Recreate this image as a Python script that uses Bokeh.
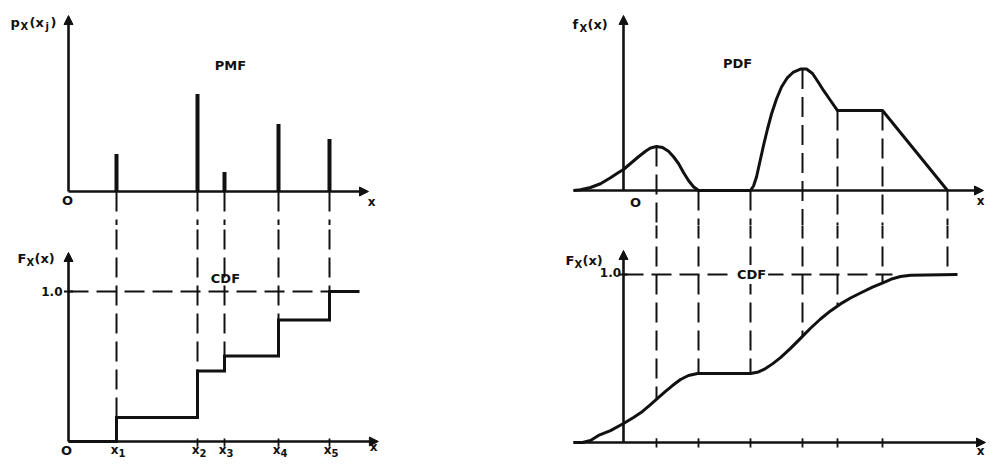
from bokeh.plotting import figure
from bokeh.layouts import gridplot
from bokeh.models import Arrow, NormalHead, Range1d, Label
from bokeh.core.properties import value
from bokeh.embed import file_html
from bokeh.resources import INLINE

# ---------------- data ----------------
# Discrete random variable (left)
x_pts = [1.6, 4.3, 5.2, 7.0, 8.7]          # x1 .. x5
x_subs = ["1", "2", "3", "4", "5"]
pmf = [0.25, 0.65, 0.13, 0.45, 0.35]        # p_X(x_j) stem heights
cdf_steps = [0.16, 0.47, 0.57, 0.81, 1.0]   # F_X(x) after each jump
x_end_left = 9.7

# Continuous random variable (right)
pdf_x = [-1.25, -1.075, -0.825, -0.575, -0.325, -0.125, 0.0, 0.175, 0.375, 0.55, 0.675, 0.825,
         0.975, 1.125, 1.25, 1.375, 1.5, 1.625, 1.75, 1.875,
         3.175, 3.25, 3.325, 3.4, 3.5, 3.6, 3.7, 3.825, 3.95, 4.1, 4.25, 4.425, 4.575, 4.725,
         4.875, 5.0, 5.175, 5.35, 6.475, 8.1]
pdf_y = [0.0, 0.005, 0.02, 0.045, 0.085, 0.12, 0.14, 0.18, 0.225, 0.262, 0.283, 0.293,
         0.287, 0.262, 0.225, 0.18, 0.12, 0.067, 0.025, 0.0,
         0.0, 0.03, 0.09, 0.18, 0.3, 0.41, 0.51, 0.61, 0.69, 0.753, 0.79, 0.81, 0.81, 0.78,
         0.72, 0.667, 0.6, 0.533, 0.533, 0.0]
cdf_x = [-1.25, -1.025, -0.825, -0.625, -0.325, 0.0, 0.25, 0.475, 0.675, 0.85, 1.05, 1.225,
         1.425, 1.625, 1.85, 3.175, 3.375, 3.55, 3.725, 3.925, 4.175, 4.425, 4.675, 4.925,
         5.175, 5.425, 5.675, 5.925, 6.225, 6.5, 6.725, 6.925, 7.175, 8.35]
cdf_y = [0.0, 0.0, 0.012, 0.042, 0.071, 0.113, 0.149, 0.185, 0.226, 0.262, 0.304, 0.339,
         0.375, 0.399, 0.411, 0.411, 0.42, 0.44, 0.468, 0.505, 0.56, 0.62, 0.68, 0.735,
         0.783, 0.825, 0.86, 0.89, 0.925, 0.952, 0.975, 0.988, 0.996, 1.0]
guide_x = [0.825, 1.875, 3.175, 4.475, 5.35, 6.475, 8.1]
guide_pdf = [0.293, 0.0, 0.0, 0.81, 0.533, 0.533, 0.0]
guide_cdf = [0.262, 0.411, 0.411, 0.632, 0.812, 0.95, 1.0]

FONT = "DejaVu Sans"
INK = "#111111"
DASH = "20 8"

W_L, W_R, H_T, H_B = 470, 522, 225, 241


def make_fig(w, h, xr, yr):
    p = figure(width=w, height=h, x_range=xr, y_range=yr, output_backend="svg",
               toolbar_location=None, x_axis_location=None, y_axis_location=None,
               min_border=0, outline_line_color=None, background_fill_color="white",
               border_fill_color="white", tools="")
    p.grid.visible = False
    return p


def axis_arrow(p, x0, y0, x1, y1):
    p.add_layout(Arrow(end=NormalHead(size=9, fill_color=INK, line_color=INK, line_width=1),
                       x_start=x0, y_start=y0, x_end=x1, y_end=y1,
                       line_color=INK, line_width=2.6))


def txt(p, x, y, parts, align="left"):
    # parts: (text, dx_px, dy_px, size_px)
    for t, dx, dy, sz in parts:
        p.text(x=[x], y=[y], text=[t], x_offset=dx, y_offset=dy,
               text_font=value(FONT), text_font_style="bold", text_font_size=f"{sz}px",
               text_align=align, text_baseline="middle", text_color=INK)


# ranges
xl = Range1d(-2.267, 13.4)
xr = Range1d(-3.825, 9.225)
tl = make_fig(W_L, H_T, xl, Range1d(-0.2267, 1.2733))
bl = make_fig(W_L, H_B, xl, Range1d(-0.1667, 1.44))
tr = make_fig(W_R, H_T, xr, Range1d(-0.2333, 1.2667))
br = make_fig(W_R, H_B, xr, Range1d(-0.1429, 1.2917))

# ---------------- top-left: PMF ----------------
tl.segment(x0=x_pts, y0=[0] * 5, x1=x_pts, y1=[-0.4] * 5,
           line_color=INK, line_width=2, line_dash=DASH)
tl.segment(x0=x_pts, y0=[0] * 5, x1=x_pts, y1=pmf, line_color=INK, line_width=4)
axis_arrow(tl, 0, 0, 0, 1.173)
axis_arrow(tl, 0, 0, 10.0, 0)
txt(tl, -1.933, 1.127, [("p", 0, 0, 13), ("X", 10, 4, 10), ("(x", 19, 0, 13), ("j", 35, 4, 10), (")", 40, 0, 13)])
txt(tl, 5.4, 0.84, [("PMF", 0, 0, 13)], align="center")
txt(tl, -0.03, -0.06, [("O", 0, 0, 13)], align="center")
txt(tl, 10.1, -0.07, [("x", 0, 0, 12)], align="center")

# ---------------- bottom-left: CDF (step) ----------------
bl.segment(x0=x_pts, y0=[1.6] * 5, x1=x_pts, y1=cdf_steps,
           line_color=INK, line_width=2, line_dash=DASH)
bl.line(x=[0, x_pts[-1]], y=[1.0, 1.0], line_color=INK, line_width=2, line_dash=DASH)
sx, sy = [0.0], [0.0]
prev = 0.0
for xi, ci in zip(x_pts, cdf_steps):
    sx += [xi, xi]
    sy += [prev, ci]
    prev = ci
sx.append(x_end_left)
sy.append(cdf_steps[-1])
bl.line(x=sx, y=sy, line_color=INK, line_width=3, line_join="miter")
bl.segment(x0=x_pts[1:], y0=[-0.035] * 4, x1=x_pts[1:], y1=[0.02] * 4, line_color=INK, line_width=1.8)
bl.segment(x0=[-0.15], y0=[1.0], x1=[0.15], y1=[1.0], line_color=INK, line_width=2)
axis_arrow(bl, 0, 0, 0, 1.26)
axis_arrow(bl, 0, 0, 10.33, 0)
txt(bl, -1.7, 1.22, [("F", 0, 0, 13), ("X", 9, 4, 10), ("(x)", 17, 0, 13)])
txt(bl, -0.2, 1.0, [("1.0", 0, 0, 12)], align="right")
txt(bl, 5.23, 1.087, [("CDF", 0, 0, 13)], align="center")
txt(bl, -0.07, -0.06, [("O", 0, 0, 13)], align="center")
for xi, s in zip(x_pts, x_subs):
    txt(bl, xi, -0.06, [("x", 2, 0, 12)], align="right")
    txt(bl, xi, -0.06, [(s, 2, 3, 10)], align="left")
txt(bl, 10.17, -0.04, [("x", 0, 0, 12)], align="center")

# ---------------- top-right: PDF ----------------
tr.segment(x0=guide_x, y0=guide_pdf, x1=guide_x, y1=[-0.4] * len(guide_x),
           line_color=INK, line_width=2, line_dash=DASH)
tr.line(x=pdf_x, y=pdf_y, line_color=INK, line_width=3, line_join="round")
axis_arrow(tr, 0, 0, 0, 1.167)
axis_arrow(tr, -1.25, 0, 9.0, 0)
txt(tr, -1.275, 1.107, [("f", 0, 0, 13), ("X", 7, 4, 10), ("(x)", 15, 0, 13)])
txt(tr, 2.85, 0.847, [("PDF", 0, 0, 13)], align="center")
txt(tr, 0.3, -0.08, [("O", 0, 0, 13)], align="center")
txt(tr, 8.925, -0.067, [("x", 0, 0, 12)], align="center")

# ---------------- bottom-right: CDF (continuous) ----------------
br.segment(x0=guide_x, y0=[1.5] * len(guide_x), x1=guide_x, y1=guide_cdf,
           line_color=INK, line_width=2, line_dash=DASH)
br.line(x=[0, cdf_x[-4]], y=[1.0, 1.0], line_color=INK, line_width=2, line_dash=DASH)
br.line(x=cdf_x, y=cdf_y, line_color=INK, line_width=3, line_join="round")
br.segment(x0=guide_x[:-1], y0=[-0.03] * 6, x1=guide_x[:-1], y1=[0.025] * 6, line_color=INK, line_width=1.8)
br.segment(x0=[-0.1], y0=[1.0], x1=[0.1], y1=[1.0], line_color=INK, line_width=2)
axis_arrow(br, 0, 0, 0, 1.143)
axis_arrow(br, -1.25, 0, 9.05, 0)
txt(br, -1.45, 1.083, [("F", 0, 0, 13), ("X", 9, 4, 10), ("(x)", 17, 0, 13)])
txt(br, -0.06, 1.0, [("1.0", 0, -2, 12)], align="right")
br.add_layout(Label(x=3.2, y=1.0, text="CDF", text_font=FONT, text_font_style="bold",
                    text_font_size="13px", text_align="center", text_baseline="middle",
                    text_color=INK, background_fill_color="white", background_fill_alpha=1.0,
                    padding=2))
txt(br, 8.925, -0.048, [("x", 0, 0, 12)], align="center")

layout = gridplot([[tl, tr], [bl, br]], toolbar_location=None)

open("out.html", "w").write(file_html(layout, INLINE))
